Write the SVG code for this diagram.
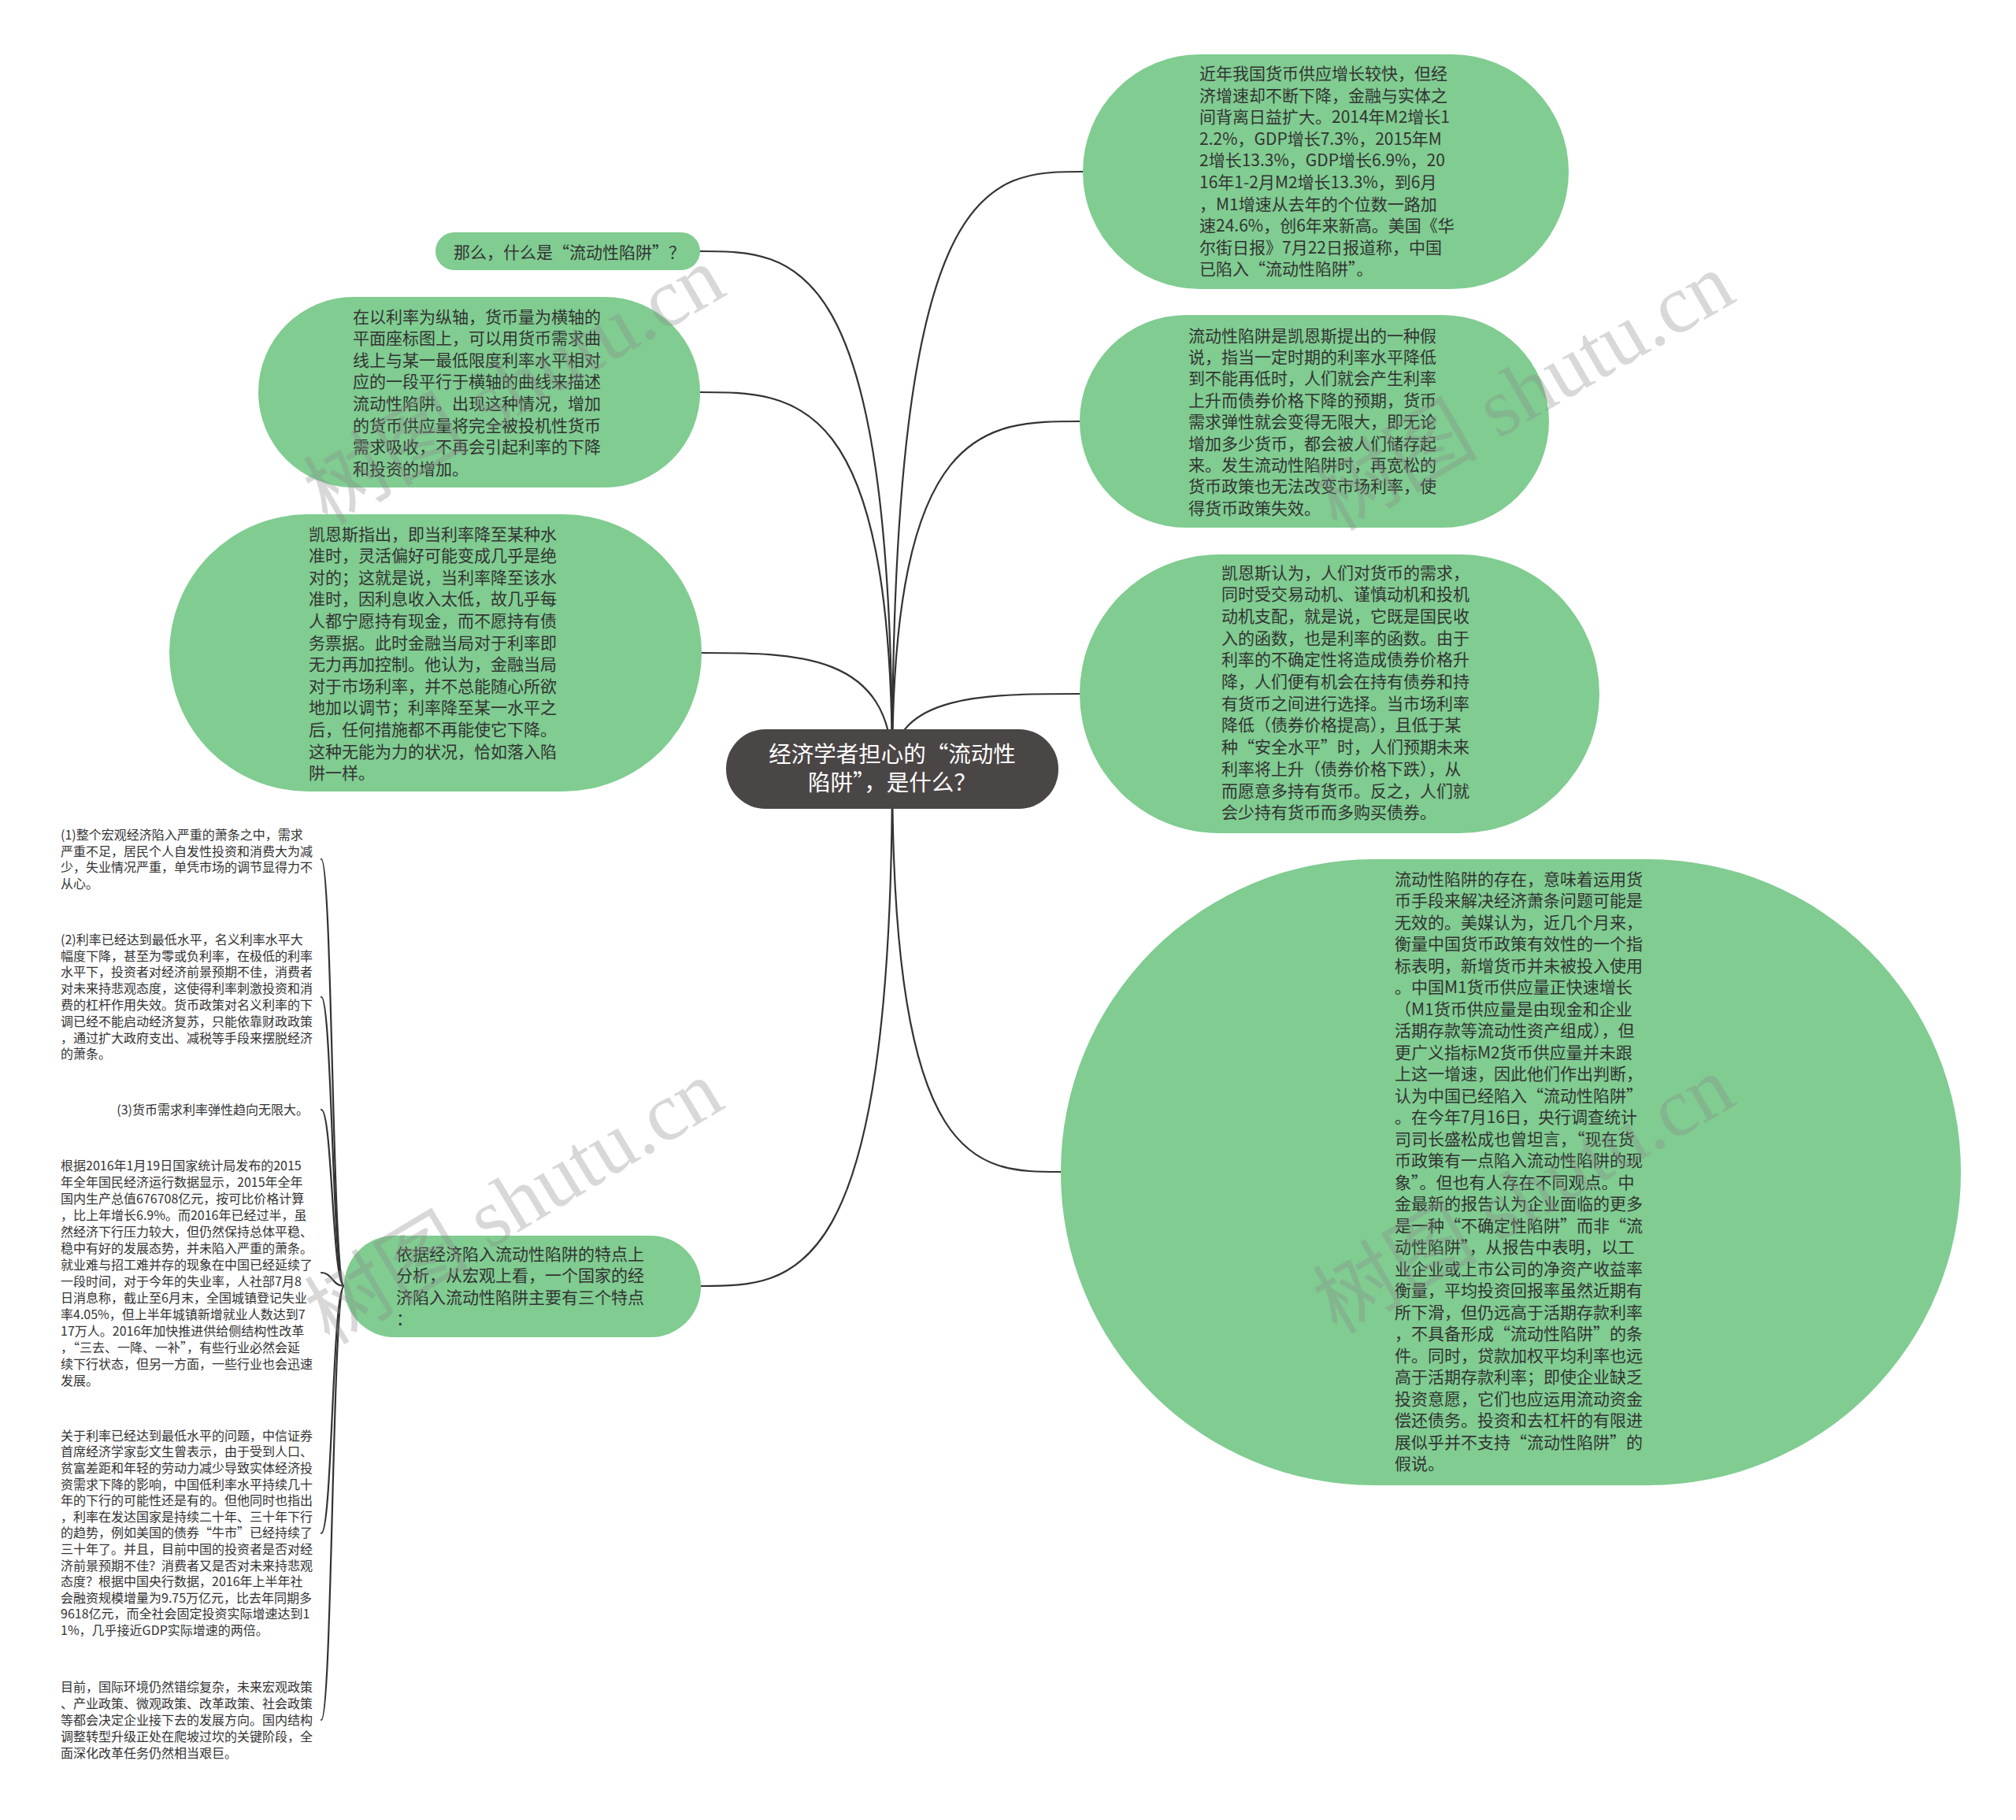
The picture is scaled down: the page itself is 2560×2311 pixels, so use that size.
<svg xmlns="http://www.w3.org/2000/svg" width="2560" height="2311" viewBox="0 0 2560 2311">
<defs>
<style>
.bg{fill:#ffffff}
.node{fill:#80cc91}
.root{fill:#4b4646}
.t{font-family:"Noto Sans CJK SC","Noto Sans",sans-serif;font-size:21px;fill:#333333}
.rt{font-family:"Noto Sans CJK SC","Noto Sans",sans-serif;font-size:28.5px;fill:#ffffff;text-anchor:middle}
.lf{font-family:"Noto Sans CJK SC","Noto Sans",sans-serif;font-size:16px;fill:#333333}
.link{fill:none;stroke:#333333;stroke-width:2.2;stroke-linecap:round}
.wm{font-family:"Liberation Serif","Noto Sans CJK SC",serif;font-size:105px;fill:#8a8a8a;opacity:0.33;text-anchor:middle}
</style>
</defs>
<rect class="bg" x="0" y="0" width="2560" height="2311"/>
<g id="connectors">
<path class="link" d="M1133,976 C1133,218 1254,218 1375,218"/>
<path class="link" d="M1133,976 C1133,535 1252,535 1371,535"/>
<path class="link" d="M1133,976 C1133,881 1252,881 1371,881"/>
<path class="link" d="M1133,976 C1133,1488 1240,1488 1347,1488"/>
<path class="link" d="M1133,976 C1133,319 1011,319 889,319"/>
<path class="link" d="M1133,976 C1133,498 1011,498 889,498"/>
<path class="link" d="M1133,976 C1133,829 1012,829 891,829"/>
<path class="link" d="M1133,976 C1133,1633 1011,1633 890,1633"/>
<path class="link" d="M437,1633 C422,1633 422,1091 408,1091"/>
<path class="link" d="M437,1633 C422,1633 422,1266 408,1266"/>
<path class="link" d="M437,1633 C422,1633 422,1409 408,1409"/>
<path class="link" d="M437,1633 C422,1633 422,1616 408,1616"/>
<path class="link" d="M437,1633 C422,1633 422,1947 408,1947"/>
<path class="link" d="M437,1633 C422,1633 422,2184 408,2184"/>
</g>
<g id="root">
<rect class="root" x="922" y="926" width="422" height="101" rx="50"/>
<text class="rt" x="1133" y="968">经济学者担心的“流动性</text>
<text class="rt" x="1133" y="1004">陷阱”，是什么？</text>
</g>
<g id="n1">
<rect class="node" x="1375" y="69" width="617" height="298" rx="149"/>
<text class="t"><tspan x="1523" y="101">近年我国货币供应增长较快，但经</tspan><tspan x="1523" dy="27.6">济增速却不断下降，金融与实体之</tspan><tspan x="1523" dy="27.6">间背离日益扩大。2014年M2增长1</tspan><tspan x="1523" dy="27.6">2.2%，GDP增长7.3%，2015年M</tspan><tspan x="1523" dy="27.6">2增长13.3%，GDP增长6.9%，20</tspan><tspan x="1523" dy="27.6">16年1-2月M2增长13.3%，到6月</tspan><tspan x="1523" dy="27.6">，M1增速从去年的个位数一路加</tspan><tspan x="1523" dy="27.6">速24.6%，创6年来新高。美国《华</tspan><tspan x="1523" dy="27.6">尔街日报》7月22日报道称，中国</tspan><tspan x="1523" dy="27.6">已陷入“流动性陷阱”。</tspan></text>
</g>
<g id="n2">
<rect class="node" x="1371" y="400" width="596" height="270" rx="135"/>
<text class="t"><tspan x="1509" y="433.5">流动性陷阱是凯恩斯提出的一种假</tspan><tspan x="1509" dy="27.4">说，指当一定时期的利率水平降低</tspan><tspan x="1509" dy="27.4">到不能再低时，人们就会产生利率</tspan><tspan x="1509" dy="27.4">上升而债券价格下降的预期，货币</tspan><tspan x="1509" dy="27.4">需求弹性就会变得无限大，即无论</tspan><tspan x="1509" dy="27.4">增加多少货币，都会被人们储存起</tspan><tspan x="1509" dy="27.4">来。发生流动性陷阱时，再宽松的</tspan><tspan x="1509" dy="27.4">货币政策也无法改变市场利率，使</tspan><tspan x="1509" dy="27.4">得货币政策失效。</tspan></text>
</g>
<g id="n3">
<rect class="node" x="1371" y="704" width="660" height="354" rx="177"/>
<text class="t"><tspan x="1551" y="734.5">凯恩斯认为，人们对货币的需求，</tspan><tspan x="1551" dy="27.7">同时受交易动机、谨慎动机和投机</tspan><tspan x="1551" dy="27.7">动机支配，就是说，它既是国民收</tspan><tspan x="1551" dy="27.7">入的函数，也是利率的函数。由于</tspan><tspan x="1551" dy="27.7">利率的不确定性将造成债券价格升</tspan><tspan x="1551" dy="27.7">降，人们便有机会在持有债券和持</tspan><tspan x="1551" dy="27.7">有货币之间进行选择。当市场利率</tspan><tspan x="1551" dy="27.7">降低（债券价格提高），且低于某</tspan><tspan x="1551" dy="27.7">种“安全水平”时，人们预期未来</tspan><tspan x="1551" dy="27.7">利率将上升（债券价格下跌），从</tspan><tspan x="1551" dy="27.7">而愿意多持有货币。反之，人们就</tspan><tspan x="1551" dy="27.7">会少持有货币而多购买债券。</tspan></text>
</g>
<g id="n4">
<rect class="node" x="1347" y="1091" width="1143" height="795" rx="397"/>
<text class="t"><tspan x="1771" y="1123.5">流动性陷阱的存在，意味着运用货</tspan><tspan x="1771" dy="27.5">币手段来解决经济萧条问题可能是</tspan><tspan x="1771" dy="27.5">无效的。美媒认为，近几个月来，</tspan><tspan x="1771" dy="27.5">衡量中国货币政策有效性的一个指</tspan><tspan x="1771" dy="27.5">标表明，新增货币并未被投入使用</tspan><tspan x="1771" dy="27.5">。中国M1货币供应量正快速增长</tspan><tspan x="1771" dy="27.5">（M1货币供应量是由现金和企业</tspan><tspan x="1771" dy="27.5">活期存款等流动性资产组成），但</tspan><tspan x="1771" dy="27.5">更广义指标M2货币供应量并未跟</tspan><tspan x="1771" dy="27.5">上这一增速，因此他们作出判断，</tspan><tspan x="1771" dy="27.5">认为中国已经陷入“流动性陷阱”</tspan><tspan x="1771" dy="27.5">。在今年7月16日，央行调查统计</tspan><tspan x="1771" dy="27.5">司司长盛松成也曾坦言，“现在货</tspan><tspan x="1771" dy="27.5">币政策有一点陷入流动性陷阱的现</tspan><tspan x="1771" dy="27.5">象”。但也有人存在不同观点。中</tspan><tspan x="1771" dy="27.5">金最新的报告认为企业面临的更多</tspan><tspan x="1771" dy="27.5">是一种“不确定性陷阱”而非“流</tspan><tspan x="1771" dy="27.5">动性陷阱”，从报告中表明，以工</tspan><tspan x="1771" dy="27.5">业企业或上市公司的净资产收益率</tspan><tspan x="1771" dy="27.5">衡量，平均投资回报率虽然近期有</tspan><tspan x="1771" dy="27.5">所下滑，但仍远高于活期存款利率</tspan><tspan x="1771" dy="27.5">，不具备形成“流动性陷阱”的条</tspan><tspan x="1771" dy="27.5">件。同时，贷款加权平均利率也远</tspan><tspan x="1771" dy="27.5">高于活期存款利率；即使企业缺乏</tspan><tspan x="1771" dy="27.5">投资意愿，它们也应运用流动资金</tspan><tspan x="1771" dy="27.5">偿还债务。投资和去杠杆的有限进</tspan><tspan x="1771" dy="27.5">展似乎并不支持“流动性陷阱”的</tspan><tspan x="1771" dy="27.5">假说。</tspan></text>
</g>
<g id="l1">
<rect class="node" x="553" y="295" width="336" height="48" rx="24"/>
<text class="t" x="576" y="327.5">那么，什么是“流动性陷阱”？</text>
</g>
<g id="l2">
<rect class="node" x="328" y="377" width="561" height="242" rx="121"/>
<text class="t"><tspan x="448" y="409.5">在以利率为纵轴，货币量为横轴的</tspan><tspan x="448" dy="27.6">平面座标图上，可以用货币需求曲</tspan><tspan x="448" dy="27.6">线上与某一最低限度利率水平相对</tspan><tspan x="448" dy="27.6">应的一段平行于横轴的曲线来描述</tspan><tspan x="448" dy="27.6">流动性陷阱。出现这种情况，增加</tspan><tspan x="448" dy="27.6">的货币供应量将完全被投机性货币</tspan><tspan x="448" dy="27.6">需求吸收，不再会引起利率的下降</tspan><tspan x="448" dy="27.6">和投资的增加。</tspan></text>
</g>
<g id="l3">
<rect class="node" x="215" y="653" width="676" height="352" rx="176"/>
<text class="t"><tspan x="392" y="685.5">凯恩斯指出，即当利率降至某种水</tspan><tspan x="392" dy="27.6">准时，灵活偏好可能变成几乎是绝</tspan><tspan x="392" dy="27.6">对的；这就是说，当利率降至该水</tspan><tspan x="392" dy="27.6">准时，因利息收入太低，故几乎每</tspan><tspan x="392" dy="27.6">人都宁愿持有现金，而不愿持有债</tspan><tspan x="392" dy="27.6">务票据。此时金融当局对于利率即</tspan><tspan x="392" dy="27.6">无力再加控制。他认为，金融当局</tspan><tspan x="392" dy="27.6">对于市场利率，并不总能随心所欲</tspan><tspan x="392" dy="27.6">地加以调节；利率降至某一水平之</tspan><tspan x="392" dy="27.6">后，任何措施都不再能使它下降。</tspan><tspan x="392" dy="27.6">这种无能为力的状况，恰如落入陷</tspan><tspan x="392" dy="27.6">阱一样。</tspan></text>
</g>
<g id="l4">
<rect class="node" x="437" y="1569" width="453" height="129" rx="64"/>
<text class="t"><tspan x="503" y="1599.5">依据经济陷入流动性陷阱的特点上</tspan><tspan x="503" dy="27.6">分析，从宏观上看，一个国家的经</tspan><tspan x="503" dy="27.6">济陷入流动性陷阱主要有三个特点</tspan><tspan x="503" dy="27.6">：</tspan></text>
</g>
<g id="leaf1">
<text class="lf"><tspan x="77" y="1065.7">(1)整个宏观经济陷入严重的萧条之中，需求</tspan><tspan x="77" dy="20.8">严重不足，居民个人自发性投资和消费大为减</tspan><tspan x="77" dy="20.8">少，失业情况严重，单凭市场的调节显得力不</tspan><tspan x="77" dy="20.8">从心。</tspan></text>
</g>
<g id="leaf2">
<text class="lf"><tspan x="77" y="1198.7">(2)利率已经达到最低水平，名义利率水平大</tspan><tspan x="77" dy="20.8">幅度下降，甚至为零或负利率，在极低的利率</tspan><tspan x="77" dy="20.8">水平下，投资者对经济前景预期不佳，消费者</tspan><tspan x="77" dy="20.8">对未来持悲观态度，这使得利率刺激投资和消</tspan><tspan x="77" dy="20.8">费的杠杆作用失效。货币政策对名义利率的下</tspan><tspan x="77" dy="20.8">调已经不能启动经济复苏，只能依靠财政政策</tspan><tspan x="77" dy="20.8">，通过扩大政府支出、减税等手段来摆脱经济</tspan><tspan x="77" dy="20.8">的萧条。</tspan></text>
</g>
<g id="leaf3">
<text class="lf" x="392" y="1414.7" text-anchor="end">(3)货币需求利率弹性趋向无限大。</text>
</g>
<g id="leaf4">
<text class="lf"><tspan x="77" y="1485.7">根据2016年1月19日国家统计局发布的2015</tspan><tspan x="77" dy="21">年全年国民经济运行数据显示，2015年全年</tspan><tspan x="77" dy="21">国内生产总值676708亿元，按可比价格计算</tspan><tspan x="77" dy="21">，比上年增长6.9%。而2016年已经过半，虽</tspan><tspan x="77" dy="21">然经济下行压力较大，但仍然保持总体平稳、</tspan><tspan x="77" dy="21">稳中有好的发展态势，并未陷入严重的萧条。</tspan><tspan x="77" dy="21">就业难与招工难并存的现象在中国已经延续了</tspan><tspan x="77" dy="21">一段时间，对于今年的失业率，人社部7月8</tspan><tspan x="77" dy="21">日消息称，截止至6月末，全国城镇登记失业</tspan><tspan x="77" dy="21">率4.05%，但上半年城镇新增就业人数达到7</tspan><tspan x="77" dy="21">17万人。2016年加快推进供给侧结构性改革</tspan><tspan x="77" dy="21">，“三去、一降、一补”，有些行业必然会延</tspan><tspan x="77" dy="21">续下行状态，但另一方面，一些行业也会迅速</tspan><tspan x="77" dy="21">发展。</tspan></text>
</g>
<g id="leaf5">
<text class="lf"><tspan x="77" y="1828.7">关于利率已经达到最低水平的问题，中信证券</tspan><tspan x="77" dy="20.6">首席经济学家彭文生曾表示，由于受到人口、</tspan><tspan x="77" dy="20.6">贫富差距和年轻的劳动力减少导致实体经济投</tspan><tspan x="77" dy="20.6">资需求下降的影响，中国低利率水平持续几十</tspan><tspan x="77" dy="20.6">年的下行的可能性还是有的。但他同时也指出</tspan><tspan x="77" dy="20.6">，利率在发达国家是持续二十年、三十年下行</tspan><tspan x="77" dy="20.6">的趋势，例如美国的债券“牛市”已经持续了</tspan><tspan x="77" dy="20.6">三十年了。并且，目前中国的投资者是否对经</tspan><tspan x="77" dy="20.6">济前景预期不佳？消费者又是否对未来持悲观</tspan><tspan x="77" dy="20.6">态度？根据中国央行数据，2016年上半年社</tspan><tspan x="77" dy="20.6">会融资规模增量为9.75万亿元，比去年同期多</tspan><tspan x="77" dy="20.6">9618亿元，而全社会固定投资实际增速达到1</tspan><tspan x="77" dy="20.6">1%，几乎接近GDP实际增速的两倍。</tspan></text>
</g>
<g id="leaf6">
<text class="lf"><tspan x="77" y="2147.7">目前，国际环境仍然错综复杂，未来宏观政策</tspan><tspan x="77" dy="21">、产业政策、微观政策、改革政策、社会政策</tspan><tspan x="77" dy="21">等都会决定企业接下去的发展方向。国内结构</tspan><tspan x="77" dy="21">调整转型升级正处在爬坡过坎的关键阶段，全</tspan><tspan x="77" dy="21">面深化改革任务仍然相当艰巨。</tspan></text>
</g>
<g id="watermarks">
<text class="wm" x="653" y="525" transform="rotate(-30 653 490)">树图 shutu.cn</text>
<text class="wm" x="1935" y="533" transform="rotate(-30 1935 498)">树图 shutu.cn</text>
<text class="wm" x="653" y="1562" transform="rotate(-31 653 1527)">树图 shutu.cn</text>
<text class="wm" x="1935" y="1553" transform="rotate(-30 1935 1518)">树图 shutu.cn</text>
</g>
</svg>
